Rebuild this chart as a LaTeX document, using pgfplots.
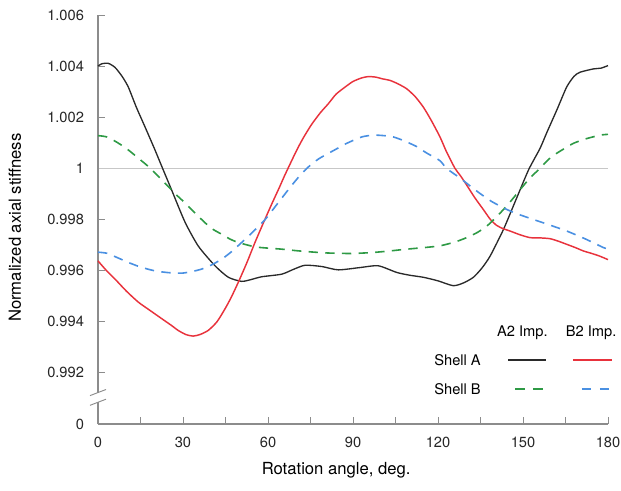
\documentclass[border=0pt]{standalone}
\usepackage{fontspec}
\setmainfont{TeX Gyre Heros}
\usepackage{pgfplots}
\pgfplotsset{compat=1.18}
\definecolor{cred}{HTML}{E8323C}
\definecolor{cgreen}{HTML}{2E9A45}
\definecolor{cblue}{HTML}{4A90E2}
\definecolor{cblack}{HTML}{2A2A2A}
\definecolor{axgray}{HTML}{8C8C8C}
\begin{document}
\begin{tikzpicture}
\path[use as bounding box] (-73.5pt,-50.25pt) rectangle (392.25pt,318pt);
\begin{axis}[
  at={(0,0)}, anchor=south west,
  scale only axis, width=382.5pt, height=306.75pt,
  xmin=0, xmax=180, ymin=0.990, ymax=1.006,
  axis x line*=bottom, axis y line*=left,
  x axis line style={draw=axgray, line width=0.8pt, -},
  y axis line style={draw=none, -},
  tick style={axgray, line width=0.7pt},
  tick align=inside,
  major tick length=5pt, minor tick length=5pt,
  xtick={0,30,60,90,120,150,180},
  xticklabels={0,30,60,90,120,150,180},
  minor xtick={15,45,75,105,135,165},
  ytick={0.990,0.992,0.994,0.996,0.998,1,1.002,1.004,1.006},
  yticklabels={0,0.992,0.994,0.996,0.998,1,1.002,1.004,1.006},
  ticklabel style={font=\fontsize{11}{13}\selectfont, text=black!85},
  yticklabel style={xshift=-7pt},
  xticklabel style={yshift=-6pt},
  xlabel={Rotation angle, deg.},
  ylabel={Normalized axial stiffness},
  label style={font=\fontsize{12.5}{15}\selectfont},
  xlabel style={at={(axis description cs:0.467,-0.112)}, anchor=center},
  ylabel style={at={(axis description cs:-0.163,0.48)}, anchor=center},
  clip=false,
]
% reference line at 1
\addplot[black!22, line width=0.9pt] coordinates {(0,1) (180,1)};
% broken y axis line
\draw[axgray, line width=0.8pt] (axis cs:0,0.990) -- (axis cs:0,0.99085);
\draw[axgray, line width=0.8pt] (axis cs:0,0.99123) -- (axis cs:0,1.006);
\draw[axgray, line width=0.7pt] (axis cs:0,0.99085) ++(-6pt,-2.3pt) -- ++(12pt,4.6pt);
\draw[axgray, line width=0.7pt] (axis cs:0,0.99123) ++(-6pt,-2.3pt) -- ++(12pt,4.6pt);

% Shell A, A2 Imp.
\addplot[cblack, line width=1pt, smooth, tension=0.4] coordinates {
(0,1.0040) (1.3,1.00409) (3.6,1.00411) (6,1.00395) (8.5,1.0036) (10.7,1.00318)
(13.5,1.0024) (16.6,1.00162) (20,1.00075) (22.5,1.00008) (26,0.99915) (30.7,0.99790)
(35.4,0.99696) (41.3,0.99619) (46,0.99574) (50.7,0.99558) (54,0.99565) (57.8,0.99576)
(64.8,0.99586) (69,0.99605) (73.1,0.99621) (79,0.99616) (84.8,0.99603) (92.5,0.99612)
(98.9,0.99619) (105.4,0.99593) (110,0.99582) (114.8,0.99574) (120,0.99560) (125.4,0.99541)
(129,0.99552) (132.5,0.99574) (135.5,0.99610) (138.4,0.99657) (143.1,0.99761) (147.8,0.99885)
(152,0.99995) (156,1.00078) (158.4,1.00140) (162,1.0023) (165.4,1.00318) (168,1.0036)
(170.1,1.00376) (174.8,1.00389) (177.5,1.00392) (180,1.00402)
};
% Shell A, B2 Imp.
\addplot[cred, line width=1.1pt, smooth, tension=0.4] coordinates {
(0,0.99638) (3,0.99600) (6,0.99567) (10,0.99520) (14.2,0.99477) (18,0.99447)
(22.5,0.99412) (26,0.99385) (28.3,0.99366) (31,0.99350) (33.6,0.99344) (36,0.99350)
(38.9,0.99366) (42,0.99400) (44.8,0.99450) (47,0.99495) (49.5,0.99554) (52.5,0.99630)
(55.4,0.99710) (58.5,0.99790) (61.3,0.99860) (64,0.99925) (66,0.99975) (70,1.00068)
(72.5,1.0012) (75.4,1.00172) (78.5,1.00218) (81.3,1.00253) (84,1.0029) (87.2,1.00318)
(90,1.00340) (93.1,1.00354) (95.4,1.00359) (98,1.00357) (100.5,1.0035) (103.1,1.00344)
(106,1.0033) (109,1.00311) (112,1.0028) (114.8,1.0024) (117.5,1.0019) (120.7,1.00123)
(123,1.00065) (126,1.0000) (128,0.99970) (130.1,0.99935) (133,0.99885) (136,0.99839)
(138.5,0.99800) (140.7,0.99777) (143,0.99764) (145.4,0.99755) (149,0.99740) (152.5,0.99729)
(156,0.99728) (159.5,0.99725) (162.5,0.99715) (165.4,0.99703) (168.5,0.9969) (171.3,0.99677)
(174,0.99668) (177,0.99657) (180,0.99643)
};
% Shell B, A2 Imp.
\addplot[cgreen, line width=1.2pt, dash pattern=on 7pt off 5.5pt, smooth, tension=0.4] coordinates {
(0,1.00128) (3.1,1.00123) (7,1.00100) (10.7,1.00072) (14,1.00042) (17.8,1.00007)
(21,0.99972) (24.8,0.99929) (27.5,0.99898) (30.7,0.99865) (34,0.99828) (37.8,0.99787)
(40.5,0.99762) (43.7,0.99742) (46.5,0.99724) (49.5,0.99710) (55.4,0.99693) (60,0.99688)
(64.8,0.99684) (70,0.99678) (75.4,0.99673) (81,0.99669) (88.3,0.99667) (92,0.99668)
(97.2,0.99671) (103,0.99677) (109,0.99684) (115,0.9969) (120.7,0.99697) (126,0.99712)
(130.1,0.99729) (134,0.99750) (137.2,0.99774) (140,0.99803) (143.1,0.99839) (146,0.99876)
(149,0.99917) (152.5,0.99963) (156,1.00000) (159,1.00035) (161.9,1.00059) (165,1.0008)
(167.8,1.00098) (172,1.00115) (177.2,1.0013) (180,1.00133)
};
% Shell B, B2 Imp.
\addplot[cblue, line width=1.2pt, dash pattern=on 7pt off 5.5pt, smooth, tension=0.4] coordinates {
(0,0.99672) (3.1,0.99668) (7,0.99650) (10.7,0.99632) (15,0.99614) (20.1,0.99599)
(25,0.99592) (29.5,0.9959) (33,0.99596) (36.6,0.99606) (40,0.99622) (43.7,0.99645)
(47,0.99673) (50.7,0.9971) (55,0.99755) (59,0.998) (63,0.99857) (67.2,0.99917)
(70.5,0.99962) (74.2,1.00005) (78,1.00038) (83.5,1.00072) (87.8,1.00098) (93.1,1.00123)
(97.2,1.0013) (101,1.00128) (104.2,1.00123) (108,1.00108) (112.5,1.00085) (116,1.0006)
(120.7,1.0003) (123,1.0000) (127.8,0.99962) (131,0.99934) (134.8,0.99902) (139,0.99870)
(144.3,0.99839) (149,0.99818) (153.7,0.998) (159,0.99780) (165.4,0.99755) (172,0.99724)
(178.4,0.9969) (180,0.99685)
};

% legend table
\node[font=\fontsize{11}{13}\selectfont] at (rel axis cs:0.832,0.2225) {A2 Imp.};
\node[font=\fontsize{11}{13}\selectfont] at (rel axis cs:0.967,0.2225) {B2 Imp.};
\node[font=\fontsize{11}{13}\selectfont] at (rel axis cs:0.705,0.1565) {Shell A};
\node[font=\fontsize{11}{13}\selectfont] at (rel axis cs:0.705,0.0856) {Shell B};
\draw[cblack, line width=1pt] (rel axis cs:0.804,0.1565) -- (rel axis cs:0.878,0.1565);
\draw[cred, line width=1.1pt] (rel axis cs:0.931,0.1565) -- (rel axis cs:1.008,0.1565);
\draw[cgreen, line width=1.2pt, dash pattern=on 7pt off 6.5pt] (rel axis cs:0.818,0.0856) -- (rel axis cs:0.873,0.0856);
\draw[cblue, line width=1.2pt, dash pattern=on 7pt off 6.5pt] (rel axis cs:0.949,0.0856) -- (rel axis cs:1.004,0.0856);
\end{axis}
\end{tikzpicture}
\end{document}
